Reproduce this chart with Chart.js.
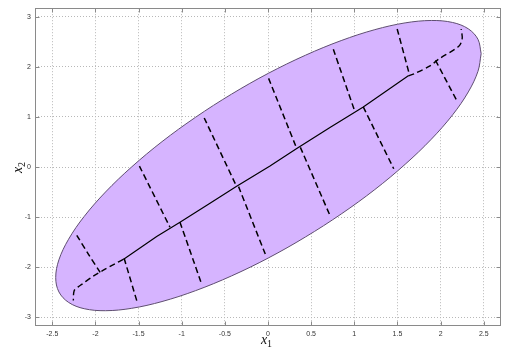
<!DOCTYPE html>
<html>
<head>
<meta charset="utf-8">
<script src="https://cdn.jsdelivr.net/npm/chart.js@4.4.0/dist/chart.umd.min.js"></script>
<style>
  html, body { margin: 0; padding: 0; background: #ffffff; }
  canvas { display: block; }
</style>
</head>
<body>
<canvas id="c" width="510" height="353"></canvas>
<script>
// ---- data ----
const xTicks = [-2.5, -2, -1.5, -1, -0.5, 0, 0.5, 1, 1.5, 2, 2.5];
const xTickLabels = ['-2.5', '-2', '-1.5', '-1', '-0.5', '0', '0.5', '1', '1.5', '2', '2.5'];
const yTicks = [-3, -2, -1, 0, 1, 2, 3];
const yTickLabels = ['-3', '-2', '-1', '0', '1', '2', '3'];
const xLabel = ['x', '1'];
const yLabel = ['x', '2'];

// ellipse outline (closed)
const boundary = [
  [2.470, 2.264], [2.433, 2.550], [2.321, 2.759], [2.140, 2.885], [1.893, 2.925],
  [1.589, 2.877], [1.238, 2.742], [0.848, 2.524], [0.433, 2.231], [0.005, 1.872],
  [-0.423, 1.455], [-0.838, 0.996], [-1.228, 0.508], [-1.579, 0.005], [-1.883, -0.497],
  [-2.130, -0.984], [-2.311, -1.439], [-2.423, -1.850], [-2.460, -2.204], [-2.423, -2.490],
  [-2.311, -2.699], [-2.130, -2.825], [-1.883, -2.865], [-1.579, -2.817], [-1.228, -2.682],
  [-0.838, -2.464], [-0.423, -2.171], [0.005, -1.812], [0.433, -1.395], [0.848, -0.936],
  [1.238, -0.448], [1.589, 0.055], [1.893, 0.557], [2.140, 1.044], [2.321, 1.499],
  [2.433, 1.910], [2.470, 2.264]
];

// central curve: dashed lower-left end, solid middle, dashed upper-right end
const midLow = [
  [-1.677, -1.841], [-1.773, -1.927], [-1.908, -2.057], [-2.02, -2.17], [-2.158, -2.34],
  [-2.20, -2.39], [-2.247, -2.47], [-2.256, -2.66]
];
const midSolid = [
  [-1.677, -1.841], [-1.29, -1.386], [-1.02, -1.10], [-0.672, -0.72], [-0.363, -0.383],
  [0.023, 0.024], [0.333, 0.37], [0.718, 0.79], [1.104, 1.20], [1.626, 1.822]
];
const midHigh = [
  [1.626, 1.822], [1.703, 1.869], [1.877, 2.018], [1.973, 2.149], [2.211, 2.41],
  [2.25, 2.56], [2.239, 2.756]
];

// dashed cross lines
const crossA = [[-2.216, -1.36], [-2.08, -1.74], [-1.945, -2.10]];
const crossB = [[-1.667, -1.82], [-1.513, -2.71]];
const crossC = [[-1.49, 0.02], [-1.136, -1.20]];
const crossD = [[-1.02, -1.10], [-0.774, -2.31]];
const crossE = [[-0.739, 0.98], [-0.363, -0.39]];
const crossF = [[-0.341, -0.39], [-0.031, -1.738]];
const crossG = [[0.007, 1.77], [0.333, 0.37]];
const crossH = [[0.375, 0.394], [0.723, -0.984]];
const crossI = [[0.757, 2.35], [1.008, 1.103]];
const crossJ = [[1.104, 1.20], [1.457, -0.033]];
const crossK = [[1.497, 2.756], [1.64, 1.84]];
const crossL = [[1.941, 2.13], [2.193, 1.31]];
const crossLines = [crossA, crossB, crossC, crossD, crossE, crossF, crossG, crossH, crossI, crossJ, crossK, crossL];

// ---- build chart ----
const toPts = arr => arr.map(p => ({ x: p[0], y: p[1] }));
const DASH = [6, 3.5];

const datasets = [];
datasets.push({
  data: toPts(boundary),
  order: 3,
  fill: 'shape',
  backgroundColor: 'rgb(214,180,255)',
  borderColor: '#5e4d70',
  borderWidth: 1,
  tension: 0.35,
  pointRadius: 0
});
[midLow, midHigh].forEach(seg => {
  datasets.push({
    data: toPts(seg),
    order: 1,
    fill: false,
    borderColor: '#000000',
    borderWidth: 1.4,
    borderDash: DASH,
    tension: 0.3,
    pointRadius: 0
  });
});
datasets.push({
  data: toPts(midSolid),
  order: 1,
  fill: false,
  borderColor: '#000000',
  borderWidth: 1.2,
  tension: 0,
  pointRadius: 0
});
crossLines.forEach(seg => {
  datasets.push({
    data: toPts(seg),
    order: 1,
    fill: false,
    borderColor: '#000000',
    borderWidth: 1.5,
    borderDash: DASH,
    tension: 0.3,
    pointRadius: 0
  });
});

const framePlugin = {
  id: 'frame',
  afterDraw(chart) {
    const { ctx, chartArea: a, scales } = chart;
    const sx = scales.x, sy = scales.y;
    ctx.save();
    ctx.strokeStyle = '#8a8a8a';
    ctx.lineWidth = 1;
    ctx.setLineDash([]);
    const L = Math.round(a.left) + 0.5, R = Math.round(a.right) - 0.5;
    const T = Math.round(a.top) + 0.5, B = Math.round(a.bottom) - 0.5;
    ctx.strokeRect(L, T, R - L, B - T);
    ctx.beginPath();
    xTicks.forEach(v => {
      const p = Math.round(sx.getPixelForValue(v)) + 0.5;
      ctx.moveTo(p, B); ctx.lineTo(p, B - 4);
      ctx.moveTo(p, T); ctx.lineTo(p, T + 4);
    });
    yTicks.forEach(v => {
      const p = Math.round(sy.getPixelForValue(v)) + 0.5;
      ctx.moveTo(L, p); ctx.lineTo(L + 4, p);
      ctx.moveTo(R, p); ctx.lineTo(R - 4, p);
    });
    ctx.stroke();

    // axis labels (math style)
    ctx.fillStyle = '#111111';
    ctx.textBaseline = 'alphabetic';
    ctx.textAlign = 'left';
    const cx = (a.left + a.right) / 2;
    ctx.font = 'italic 14px "Liberation Serif"';
    ctx.fillText(xLabel[0], cx - 7, 344);
    ctx.font = '10px "Liberation Serif"';
    ctx.fillText(xLabel[1], cx - 1, 347);

    const cy = (a.top + a.bottom) / 2;
    ctx.save();
    ctx.translate(22, cy + 6);
    ctx.rotate(-Math.PI / 2);
    ctx.font = 'italic 14px "Liberation Serif"';
    ctx.fillText(yLabel[0], 0, 0);
    ctx.font = '10px "Liberation Serif"';
    ctx.fillText(yLabel[1], 6, 3);
    ctx.restore();

    ctx.restore();
  }
};

const tickFont = { family: '"Liberation Sans", Arial, sans-serif', size: 7 };

new Chart(document.getElementById('c').getContext('2d'), {
  type: 'line',
  data: { datasets },
  options: {
    responsive: false,
    animation: false,
    devicePixelRatio: 1,
    layout: { padding: { top: 3, right: 9, left: 0, bottom: 0 } },
    plugins: { legend: { display: false }, tooltip: { enabled: false } },
    elements: { point: { radius: 0 } },
    scales: {
      x: {
        type: 'linear',
        min: -2.7,
        max: 2.7,
        afterFit: s => { s.height = 27; },
        afterBuildTicks: s => { s.ticks = xTicks.map(v => ({ value: v })); },
        ticks: {
          callback: (v, i) => xTickLabels[i],
          font: tickFont,
          color: '#333333',
          padding: 4,
          maxRotation: 0,
          autoSkip: false
        },
        grid: { color: '#b8b8b8', lineWidth: 1, drawTicks: false },
        border: { display: false, dash: [1, 2] }
      },
      y: {
        type: 'linear',
        min: -3.17,
        max: 3.17,
        afterFit: s => { s.width = 35; },
        afterBuildTicks: s => { s.ticks = yTicks.map(v => ({ value: v })); },
        ticks: {
          callback: (v, i) => yTickLabels[i],
          font: tickFont,
          color: '#333333',
          padding: 4,
          autoSkip: false
        },
        grid: { color: '#b8b8b8', lineWidth: 1, drawTicks: false },
        border: { display: false, dash: [1, 2] }
      }
    }
  },
  plugins: [framePlugin]
});
</script>
</body>
</html>
